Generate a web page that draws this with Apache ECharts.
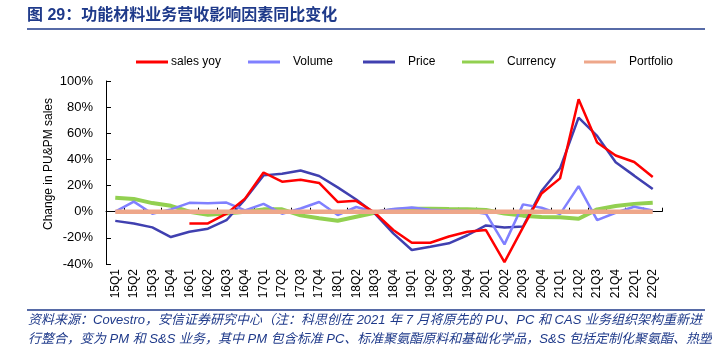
<!DOCTYPE html>
<html>
<head>
<meta charset="utf-8">
<script src="https://cdn.jsdelivr.net/npm/echarts@6/dist/echarts.min.js"></script>
<style>
  html, body { margin: 0; padding: 0; background: #fff; }
  #chart { width: 712px; height: 349px; }
</style>
</head>
<body>
<div id="chart"></div>
<script>
// Quarterly categories, 2015Q1 - 2022Q2
const quarters = ['15Q1','15Q2','15Q3','15Q4','16Q1','16Q2','16Q3','16Q4','17Q1','17Q2','17Q3','17Q4',
  '18Q1','18Q2','18Q3','18Q4','19Q1','19Q2','19Q3','19Q4','20Q1','20Q2','20Q3','20Q4',
  '21Q1','21Q2','21Q3','21Q4','22Q1','22Q2'];

// Year-on-year change of PU&PM sales and its drivers (%)
const salesYoy = [null, null, null, null, -9, -9, -1.5, 10, 30, 23, 24.5, 22,
  7.5, 8.3, -0.8, -14, -23.7, -23.7, -19, -15.3, -14, -38.5, -12, 14,
  25.5, 86, 53, 43, 38, 26.5];
const volume = [0, 7.7, -1.5, 1.8, 6.8, 6.4, 7, 1, 6, -1.5, 2.5, 7.4,
  -2.5, 3.6, 0, 2, 3.2, 1.5, 1, 0.5, -1.5, -25, 5.6, 3,
  -1.8, 19.6, -6.4, -0.8, 3.8, 1];
const price = [-7, -9, -12, -19.4, -15.3, -13, -6.5, 9.5, 27.8, 29, 31.5, 27.3,
  18.6, 9.4, -1.3, -16.6, -29.3, -26.8, -24.2, -18, -10.5, -12, -11.3, 15.8,
  33.2, 72, 58, 37.8, 27.6, 17.3];
const currency = [10.7, 9.8, 6.6, 4.5, 0, -2.4, -1.3, 0, 1.8, 1.8, -2.8, -5,
  -6.9, -3.8, -0.8, 1.3, 2.3, 2.3, 2, 1.8, 1.3, -1.3, -3, -4,
  -4.3, -5.4, 1.8, 4.3, 6, 6.9];
const portfolio = [0, 0, 0, 0, 0, 0, 0, 0, 0, 0, 0, 0,
  0, 0, 0, 0, 0, 0, 0, 0, 0, 0, 0, 0,
  0, 0, 0, 0, 0, 0];

const yTicks = { min: -40, max: 100, interval: 20 };

const titleText = '图 29：功能材料业务营收影响因素同比变化';
const sourceLine1 = '资料来源：Covestro，安信证券研究中心（注：科思创在 2021 年 7 月将原先的 PU、PC 和 CAS 业务组织架构重新进';
const sourceLine2 = '行整合，变为 PM 和 S&S 业务，其中 PM 包含标准 PC、标准聚氨酯原料和基础化学品，S&S 包括定制化聚氨酯、热塑';

const latin = '"Liberation Sans", Arial, "Noto Sans CJK SC", sans-serif';
const navy = '#1F3A8A';

const seriesDefs = [
  { name: 'sales yoy', data: salesYoy, color: '#FF0000', width: 2.5 },
  { name: 'Volume', data: volume, color: '#8080FF', width: 2.5 },
  { name: 'Price', data: price, color: '#4040B0', width: 2.5 },
  { name: 'Currency', data: currency, color: '#92D050', width: 4 },
  { name: 'Portfolio', data: portfolio, color: '#EEA78A', width: 4.5 }
];

// legend entries sit in one row above the plot
const legendLeft = [136, 248, 363, 462, 584];

const chart = echarts.init(document.getElementById('chart'), null, { renderer: 'canvas' });

chart.setOption({
  animation: false,
  backgroundColor: '#fff',
  textStyle: { fontFamily: latin },
  graphic: [
    { type: 'line', shape: { x1: 27, y1: 29, x2: 705, y2: 29 }, style: { stroke: navy, lineWidth: 1.5 } },
    { type: 'line', shape: { x1: 27, y1: 310, x2: 705, y2: 310 }, style: { stroke: navy, lineWidth: 1.5 } },
    { type: 'text', left: 27, top: 8, style: { text: titleText, font: 'bold 16px ' + latin, fill: navy } },
    { type: 'text', left: 28, top: 314, style: { text: sourceLine1, font: 'italic 13px ' + latin, fill: navy } },
    { type: 'text', left: 28, top: 333, style: { text: sourceLine2, font: 'italic 13px ' + latin, fill: navy } }
  ],
  legend: seriesDefs.map((s, i) => ({
    data: [{ name: s.name, icon: 'rect', itemStyle: { color: s.color } }],
    left: legendLeft[i],
    top: 56,
    padding: 0,
    itemWidth: 32,
    itemHeight: 3,
    selectedMode: false,
    textStyle: { fontSize: 12, color: '#000', fontFamily: latin, padding: i === 0 ? [0, 0, 0, -2] : [0, 0, 0, 8] }
  })),
  grid: { left: 106, right: 50, top: 81, bottom: 85, containLabel: false },
  xAxis: [
    {
      type: 'category',
      data: quarters,
      position: 'bottom',
      boundaryGap: true,
      axisLine: { show: false, onZero: false },
      axisTick: { show: false },
      axisLabel: { rotate: 90, fontSize: 12, color: '#000', margin: 5, interval: 0, fontFamily: latin }
    },
    {
      type: 'category',
      data: quarters,
      position: 'bottom',
      boundaryGap: true,
      axisLine: { show: true, onZero: true, lineStyle: { color: '#000', width: 1 } },
      axisTick: { show: true, inside: true, length: 4, interval: 0, lineStyle: { color: '#000' } },
      axisLabel: { show: false }
    }
  ],
  yAxis: {
    type: 'value',
    min: yTicks.min,
    max: yTicks.max,
    interval: yTicks.interval,
    name: 'Change in PU&PM sales',
    nameLocation: 'middle',
    nameGap: 51,
    nameMoveOverlap: false,
    nameTextStyle: { fontSize: 12, color: '#000', fontFamily: latin, padding: [0, 0, 0, 17] },
    axisLine: { show: true, lineStyle: { color: '#000', width: 1 } },
    axisTick: { show: true, inside: true, length: 5, lineStyle: { color: '#000' } },
    axisLabel: { fontSize: 13, color: '#000', margin: 13, formatter: '{value}%', fontFamily: latin },
    splitLine: { show: false }
  },
  series: seriesDefs.slice().reverse().map(s => ({
    name: s.name,
    type: 'line',
    xAxisIndex: 0,
    data: s.data,
    symbol: 'none',
    connectNulls: false,
    color: s.color,
    lineStyle: { color: s.color, width: s.width },
    z: s.name === 'Portfolio' ? 3 : 2
  }))
});
</script>
</body>
</html>
